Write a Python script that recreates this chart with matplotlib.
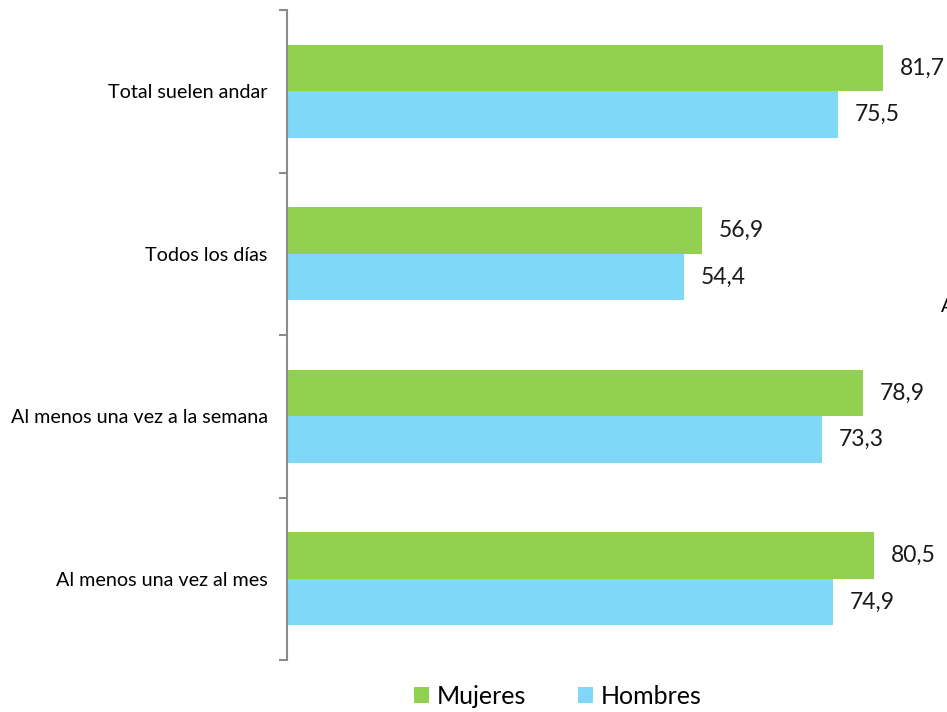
# horizontal grouped bars: Mujeres vs Hombres
from matplotlib import pyplot as plt
import numpy as np

categorias = ['Total suelen andar', 'Todos los días',
              'Al menos una vez a la semana', 'Al menos una vez al mes']
mujeres = [81.7, 56.9, 78.9, 80.5]
hombres = [75.5, 54.4, 73.3, 74.9]

plt.rcParams['font.family'] = ['Lato', 'DejaVu Sans']

verde = '#92D050'
azul = '#80D8F8'

fig = plt.figure(figsize=(9.47, 7.12), dpi=100)
# axes run past the right edge like the original, which is cut off
ax = fig.add_axes([287 / 947, 52 / 712, 729.5 / 947, 650 / 712])

y = np.arange(len(categorias))
h = 0.286

ax.barh(y - h / 2, mujeres, height=h, color=verde, label='Mujeres')
ax.barh(y + h / 2, hombres, height=h, color=azul, label='Hombres')

for i in range(len(categorias)):
    ax.text(mujeres[i] + 2.3, y[i] - h / 2, f'{mujeres[i]:.1f}'.replace('.', ','),
            va='center', ha='left', fontsize=16.5, color='#1a1a1a')
    ax.text(hombres[i] + 2.3, y[i] + h / 2, f'{hombres[i]:.1f}'.replace('.', ','),
            va='center', ha='left', fontsize=16.5, color='#1a1a1a')

ax.set_xlim(0, 100)
ax.set_ylim(len(categorias) - 0.5, -0.5)

ax.set_yticks(y)
ax.set_yticklabels(categorias, fontsize=14.2)
ax.set_yticks(np.arange(len(categorias) + 1) - 0.5, minor=True)
ax.tick_params(axis='y', which='major', length=0, pad=14)
ax.tick_params(axis='y', which='minor', length=6, width=1.5, color='#8c8c8c')
ax.set_xticks([])

for s in ['top', 'right', 'bottom']:
    ax.spines[s].set_visible(False)
ax.spines['left'].set_color('#8c8c8c')
ax.spines['left'].set_linewidth(1.5)

fig.legend(loc='center', bbox_to_anchor=(0.589, 0.022), ncol=2, frameon=False,
           fontsize=18, handlelength=0.6, handleheight=0.6, handletextpad=0.3,
           columnspacing=2.1)

# stray fragment of text cut off at the right edge
fig.text(941 / 947, 1 - 306 / 712, 'A', fontsize=14, va='center', ha='left')

fig.savefig('out.png', dpi=100)
